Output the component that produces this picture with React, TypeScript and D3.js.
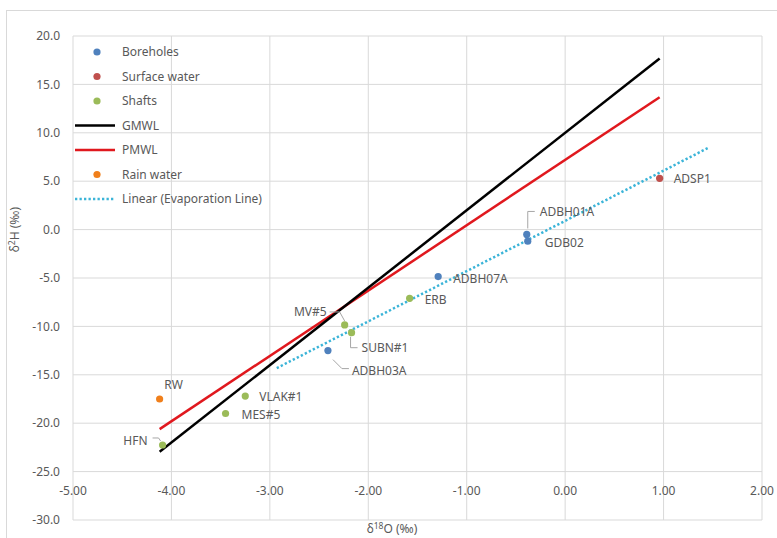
import React from "react";
import * as d3 from "d3";

// sample values (δ18O, δ2H)
const boreholeNames = ["ADBH01A", "GDB02", "ADBH07A", "ADBH03A"];
const boreholeO = [-0.39, -0.38, -1.29, -2.41];
const boreholeH = [-0.5, -1.2, -4.85, -12.5];

const surfaceNames = ["ADSP1"];
const surfaceO = [0.96];
const surfaceH = [5.3];

const shaftNames = ["ERB", "MV#5", "SUBN#1", "VLAK#1", "MES#5", "HFN"];
const shaftO = [-1.58, -2.24, -2.17, -3.25, -3.45, -4.09];
const shaftH = [-7.1, -9.85, -10.65, -17.2, -19.0, -22.25];

const rainNames = ["RW"];
const rainO = [-4.12];
const rainH = [-17.5];

// lines: [slope, intercept, xStart, xEnd]
const gmwl = [8, 10, -4.12, 0.96];
const pmwl = [6.75, 7.2, -4.12, 0.96];
const evap = [5.19, 0.9, -2.93, 1.45];

const xTicks = [-5, -4, -3, -2, -1, 0, 1, 2];
const yTicks = [20, 15, 10, 5, 0, -5, -10, -15, -20, -25, -30];

const legendItems = [
  { label: "Boreholes", kind: "dot", color: "#4F81BD" },
  { label: "Surface water", kind: "dot", color: "#C0504D" },
  { label: "Shafts", kind: "dot", color: "#9BBB59" },
  { label: "GMWL", kind: "line", color: "#000000" },
  { label: "PMWL", kind: "line", color: "#E0181E" },
  { label: "Rain water", kind: "dot", color: "#F07F1B" },
  { label: "Linear (Evaporation Line)", kind: "dotted", color: "#3BB4D8" },
];

// label placement relative to each point: dx, dy, anchor, leader polyline
const labelLayout: Record<string, { dx: number; dy: number; anchor: string; leader?: number[][] }> = {
  ADBH01A: { dx: 13, dy: -23, anchor: "start", leader: [[1, -6], [1, -23], [8, -23]] },
  GDB02: { dx: 17, dy: 2, anchor: "start" },
  ADBH07A: { dx: 15, dy: 2, anchor: "start" },
  ADBH03A: { dx: 24, dy: 20, anchor: "start", leader: [[5, 9], [14, 18], [21, 18]] },
  ADSP1: { dx: 14, dy: 1, anchor: "start" },
  ERB: { dx: 15, dy: 1, anchor: "start" },
  "MV#5": { dx: -18, dy: -13, anchor: "end", leader: [[-15, -13], [-5, -13], [0, -4]] },
  "SUBN#1": { dx: 10, dy: 15, anchor: "start", leader: [[-1, 4], [-1, 15], [6, 15]] },
  "VLAK#1": { dx: 14, dy: 1, anchor: "start" },
  "MES#5": { dx: 16, dy: 1, anchor: "start" },
  HFN: { dx: -15, dy: -4, anchor: "end", leader: [[-10, -7], [-4, -7], [-2, -4]] },
  RW: { dx: 14, dy: -14, anchor: "middle" },
};

const W = 777;
const H = 538;
const left = 73, right = 762, top = 36, bottom = 520;
const FONT = "'Noto Sans', 'Open Sans', sans-serif";
const FS = 12;
const TXT = "#595959";
const GRID = "#d9d9d9";

export default function App() {
  const x = d3.scaleLinear().domain([-5, 2]).range([left, right]);
  const y = d3.scaleLinear().domain([-30, 20]).range([bottom, top]);

  const series = [
    { names: boreholeNames, xs: boreholeO, ys: boreholeH, color: "#4F81BD" },
    { names: surfaceNames, xs: surfaceO, ys: surfaceH, color: "#C0504D" },
    { names: shaftNames, xs: shaftO, ys: shaftH, color: "#9BBB59" },
    { names: rainNames, xs: rainO, ys: rainH, color: "#F07F1B" },
  ];

  const seg = (l: number[]) => {
    const [m, b, x0, x1] = l;
    return d3.line<number[]>().x((d) => x(d[0])).y((d) => y(d[1]))([
      [x0, m * x0 + b],
      [x1, m * x1 + b],
    ]);
  };

  return (
    <svg width={W} height={H} style={{ position: "absolute", left: 0, top: 0, background: "#fff" }} fontFamily={FONT}>
      <rect x={6.5} y={10.5} width={W} height={H} fill="none" stroke={GRID} />
      {/* gridlines */}
      {yTicks.map((t) => (
        <line key={"gy" + t} x1={left} x2={right} y1={y(t)} y2={y(t)} stroke={GRID} />
      ))}
      {xTicks.map((t) => (
        <line key={"gx" + t} x1={x(t)} x2={x(t)} y1={top} y2={bottom} stroke={GRID} />
      ))}
      {/* y tick labels */}
      {yTicks.map((t) => (
        <text key={"ty" + t} x={60} y={y(t)} dy="0.35em" textAnchor="end" fontSize={FS} fill={TXT}>
          {d3.format(".1f")(t).replace("−", "-")}
        </text>
      ))}
      {/* x tick labels, axis crosses at -25 */}
      {xTicks.map((t) => (
        <text key={"tx" + t} x={x(t)} y={y(-25) + 19} dy="0.35em" textAnchor="middle" fontSize={FS} fill={TXT}>
          {d3.format(".2f")(t).replace("−", "-")}
        </text>
      ))}
      {/* axis titles */}
      <text x={15} y={y(0)} transform={`rotate(-90 15 ${y(0)})`} textAnchor="middle" dy="0.35em" fontSize={FS} fill={TXT}>
        δ<tspan fontSize={8.5} dy={-4}>2</tspan>
        <tspan dy={4}>H (‰)</tspan>
      </text>
      <text x={392} y={533} textAnchor="middle" fontSize={FS} fill={TXT}>
        δ<tspan fontSize={8.5} dy={-4}>18</tspan>
        <tspan dy={4}>O (‰)</tspan>
      </text>

      {/* lines */}
      <path d={seg(evap) || ""} fill="none" stroke="#3BB4D8" strokeWidth={2.5} strokeDasharray="2.3 2.2" />
      <path d={seg(pmwl) || ""} fill="none" stroke="#E0181E" strokeWidth={2.5} />
      <path d={seg(gmwl) || ""} fill="none" stroke="#000" strokeWidth={2.5} />

      {/* leaders */}
      {series.map((s) =>
        s.names.map((n, i) => {
          const lay = labelLayout[n];
          if (!lay || !lay.leader) return null;
          const px = x(s.xs[i]);
          const py = y(s.ys[i]);
          const pts = lay.leader.map((p) => `${px + p[0]},${py + p[1]}`).join(" ");
          return <polyline key={"l" + n} points={pts} fill="none" stroke="#a6a6a6" strokeWidth={1} />;
        })
      )}

      {/* points */}
      {series.map((s) =>
        s.names.map((n, i) => (
          <circle key={"p" + n} cx={x(s.xs[i])} cy={y(s.ys[i])} r={3.6} fill={s.color} />
        ))
      )}

      {/* point labels */}
      {series.map((s) =>
        s.names.map((n, i) => {
          const lay = labelLayout[n];
          return (
            <text
              key={"t" + n}
              x={x(s.xs[i]) + lay.dx}
              y={y(s.ys[i]) + lay.dy}
              dy="0.35em"
              textAnchor={lay.anchor}
              fontSize={FS}
              fill={TXT}
            >
              {n}
            </text>
          );
        })
      )}

      {/* legend */}
      {legendItems.map((it, i) => {
        const ly = 52 + i * 24.5;
        return (
          <g key={"lg" + i}>
            {it.kind === "dot" && <circle cx={97} cy={ly} r={3.6} fill={it.color} />}
            {it.kind === "line" && <line x1={75} x2={115} y1={ly} y2={ly} stroke={it.color} strokeWidth={2.5} />}
            {it.kind === "dotted" && (
              <line x1={75} x2={115} y1={ly} y2={ly} stroke={it.color} strokeWidth={2.5} strokeDasharray="2.3 2.2" />
            )}
            <text x={122} y={ly} dy="0.35em" fontSize={FS} fill={TXT}>
              {it.label}
            </text>
          </g>
        );
      })}
    </svg>
  );
}
